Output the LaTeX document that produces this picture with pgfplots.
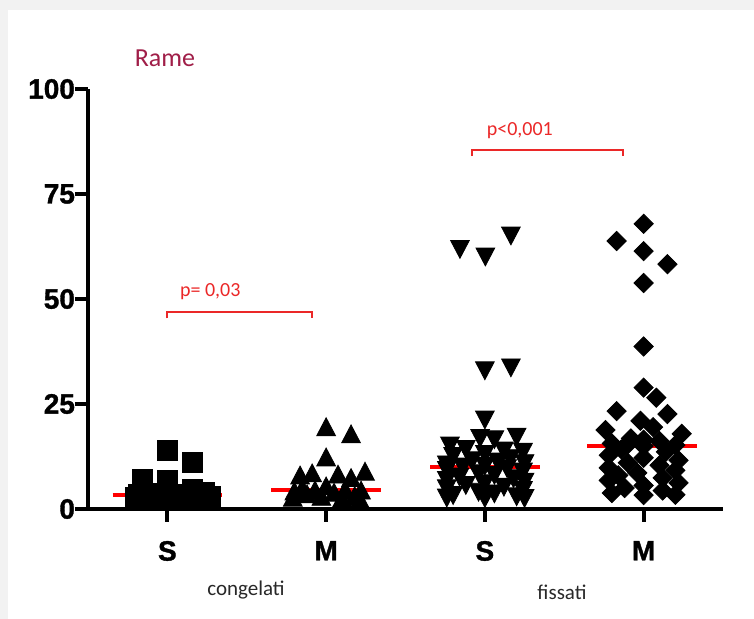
\documentclass[border=0pt]{standalone}
\usepackage{pgfplots}
\pgfplotsset{compat=1.18}
\usepackage{fontspec}
\setmainfont{Liberation Sans}
\newfontface\heavy{Liberation Sans Bold}[FakeBold=1.2]
\newfontfamily\calibri{Carlito}
\definecolor{titlered}{RGB}{160,30,72}
\definecolor{pred}{RGB}{235,40,40}
\definecolor{labgray}{RGB}{40,40,40}

% copper (Rame) values, x = group position with beeswarm offset
\pgfplotstableread{
x y
1.000 13.9
1.157 11.1
0.843 6.9
1.000 6.7
1.157 4.5
1.000 4.2
0.843 4.0
1.233 3.8
0.920 3.6
1.080 3.5
0.820 3.4
1.157 3.3
1.000 3.1
0.843 3.0
1.270 2.9
0.800 2.8
1.080 2.6
0.920 2.5
1.200 2.4
0.800 2.4
}\congS
\pgfplotstableread{
x y
2.000 19.6
2.157 17.9
2.000 12.4
1.836 8.1
1.912 8.6
2.075 8.3
2.157 7.5
2.245 9.0
2.000 5.5
1.850 5.0
2.120 4.6
1.930 4.55
2.220 4.5
1.800 4.3
2.050 4.0
1.880 3.6
2.180 3.2
1.970 3.0
1.790 2.8
2.100 2.6
2.210 2.5
}\congM
\pgfplotstableread{
x y
3.164 65.0
2.843 61.8
3.003 60.0
3.164 33.6
3.000 32.9
3.000 21.2
3.200 17.1
2.970 16.8
3.060 16.5
2.780 15.0
2.880 14.2
3.120 13.8
3.240 13.5
3.000 13.0
2.800 12.5
3.160 12.0
2.920 11.5
3.080 11.2
3.250 10.8
2.760 10.5
3.000 10.2
2.860 10.0
3.140 9.6
2.760 9.2
3.240 8.8
2.960 8.4
3.060 8.0
2.840 7.6
3.180 7.2
2.760 6.8
3.250 6.4
3.000 6.0
2.880 5.6
3.120 5.2
2.760 4.8
3.240 4.4
2.960 4.0
3.060 3.6
2.800 3.2
3.200 2.9
2.760 2.6
3.250 2.5
3.000 2.5
}\fissS
\pgfplotstableread{
x y
4.000 67.9
3.830 63.8
4.000 61.4
4.150 58.3
4.000 53.8
4.000 38.7
4.000 28.9
4.080 26.5
3.830 23.3
4.150 22.6
3.980 21.0
4.060 19.5
3.760 18.8
4.240 17.9
3.920 16.8
4.000 16.5
4.100 16.2
3.800 15.6
3.900 15.4
4.200 15.2
4.000 15.0
3.860 14.2
4.140 13.6
3.780 12.8
4.000 12.2
4.220 11.6
3.900 11.0
4.100 10.4
3.780 9.8
4.200 9.2
3.960 8.6
3.840 8.0
4.120 7.4
3.780 6.8
4.220 6.2
4.000 5.6
3.880 5.0
4.120 4.4
3.800 3.8
4.200 3.4
4.000 3.3
}\fissM

\begin{document}
\begin{tikzpicture}[x=1pt,y=1pt]
% sheet with a light shadow along the top and left edges
\fill[gray!10] (-44,-55) rectangle (333,254.5);
\fill[white] (-40,-55) rectangle (333,249.5);
\useasboundingbox (-44,-55) rectangle (333,254.5);

\begin{axis}[
  at={(0,0)}, anchor=south west,
  scale only axis, width=317.5pt, height=210pt,
  xmin=0.5, xmax=4.5, ymin=0, ymax=100,
  axis lines=left,
  axis line style={line width=2pt, -},
  xtick={1,2,3,4}, xticklabels={S,M,S,M},
  ytick={0,25,50,75,100},
  tick align=outside,
  major tick length=6.5pt,
  every tick/.style={black, line width=2pt},
  tick label style={font=\heavy\fontsize{14}{14}\selectfont},
  xticklabel style={yshift=-6pt},
  yticklabel style={xshift=3.5pt},
  /pgf/number format/assume math mode=true,
  clip=false,
]
% medians
\addplot[red, line width=2pt] coordinates {(0.655,3.4) (1.345,3.4)};
\addplot[red, line width=2pt] coordinates {(1.655,4.6) (2.345,4.6)};
\addplot[red, line width=2pt] coordinates {(2.655,10.0) (3.345,10.0)};
\addplot[red, line width=2pt] coordinates {(3.645,15.0) (4.335,15.0)};

% individual values
\addplot[only marks, mark=square*, mark size=5.1pt, black] table {\congS};
\addplot[only marks, mark=triangle*, mark size=5.4pt, black,
  mark options={yshift=-1.5pt, yscale=1.1}] table {\congM};
\addplot[only marks, mark=triangle*, mark size=5.4pt, black,
  mark options={yshift=1.5pt, yscale=1.1, rotate=180}] table {\fissS};
\addplot[only marks, mark=square*, mark size=3.4pt, black,
  mark options={rotate=45}] table {\fissM};

% significance brackets
\addplot[pred, line width=1pt] coordinates {(1,45.4) (1,46.9) (1.91,46.9) (1.91,45.4)};
\addplot[pred, line width=1pt] coordinates {(2.92,84.0) (2.92,85.5) (3.87,85.5) (3.87,84.0)};
\node[pred, font=\calibri\fontsize{10}{10}\selectfont] at (axis cs:1.27,51.7) {p= 0,03};
\node[pred, font=\calibri\fontsize{10}{10}\selectfont] at (axis cs:3.22,90.2) {p<0,001};
\end{axis}

\node[titlered, font=\calibri\fontsize{13}{13}\selectfont] at (38.5,225.5) {Rame};
\node[labgray, font=\calibri\fontsize{10.5}{10.5}\selectfont] at (79,-40.5) {congelati};
\node[labgray, font=\calibri\fontsize{10.5}{10.5}\selectfont] at (237,-41.5) {fissati};
\end{tikzpicture}
\end{document}
